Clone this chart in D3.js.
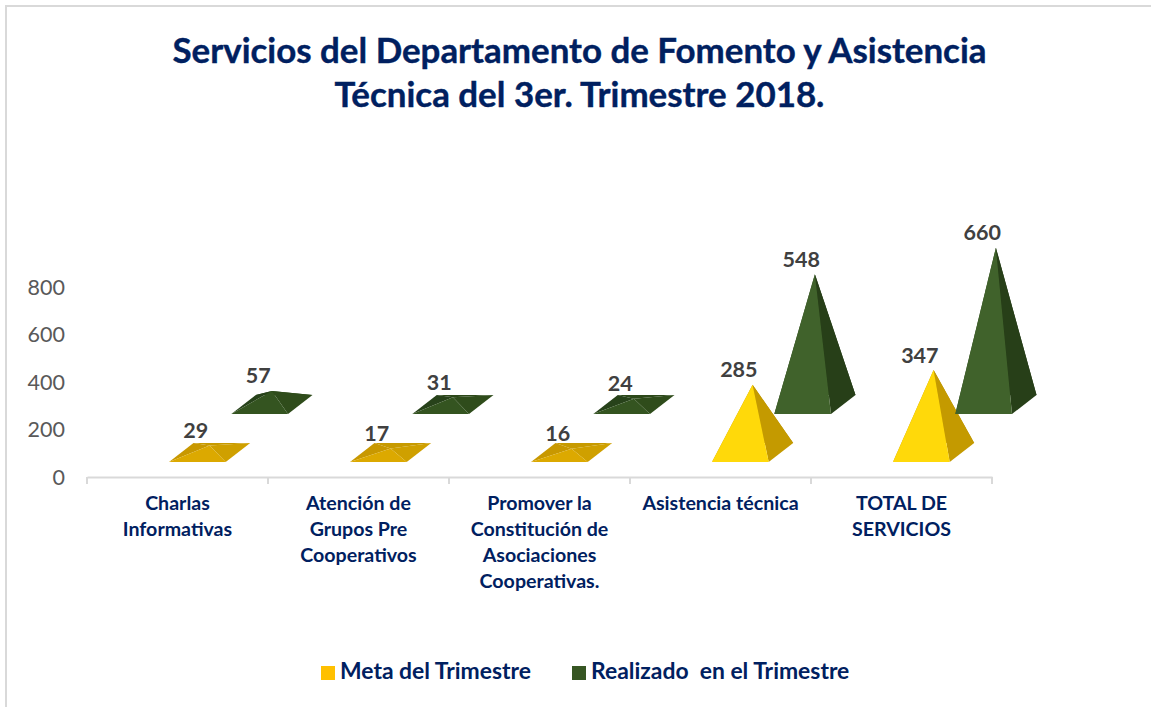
<!DOCTYPE html>
<html><head><meta charset="utf-8">
<script src="https://cdn.jsdelivr.net/npm/d3@7"></script>
<style>html,body{margin:0;padding:0;background:#fff;overflow:hidden}svg{display:block}text{font-family:Lato,"Open Sans",sans-serif}</style>
</head><body><svg id="c" width="1151" height="707"></svg>
<script>
const titleLines = ["Servicios del Departamento de Fomento y Asistencia","Técnica del 3er. Trimestre 2018."];
const categories = ["Charlas Informativas","Atención de Grupos Pre Cooperativos","Promover la Constitución de Asociaciones Cooperativas.","Asistencia técnica","TOTAL DE SERVICIOS"];
const categoryLines = [["Charlas","Informativas"],["Atención de","Grupos Pre","Cooperativos"],["Promover la","Constitución de","Asociaciones","Cooperativas."],["Asistencia técnica"],["TOTAL DE","SERVICIOS"]];
const seriesNames = ["Meta del Trimestre","Realizado  en el Trimestre"];
const meta = [29,17,16,285,347];
const realizado = [57,31,24,548,660];
const yTicks = [0,200,400,600,800];
const seriesValues = [meta,realizado];

const svg = d3.select("#c");
const navy = "#002060";
const depthX = 24.5, depthY = 19;
const baseLift = [15,63];
const bright = [{front:"#FFD90A",right:"#C49A00",back:"#B38C00",left:"#C49A00"},{front:"#40622B",right:"#273F18",back:"#223815",left:"#2A4419"}];
const dim = [{front:"#DCA900",right:"#CFA000",back:"#C79A00",left:"#C89800"},{front:"#345420",right:"#2F4C1B",back:"#2C4819",left:"#27421A"}];
const dimBelow = 100;

// frame
svg.append("path").attr("d","M6,707V6H1151").attr("fill","none").attr("stroke","#d9d9d9").attr("stroke-width",2);

// title
svg.append("g").selectAll("text").data(titleLines).join("text")
  .attr("x",579.5).attr("y",(d,i)=>63+i*44).attr("text-anchor","middle")
  .attr("fill",navy).attr("stroke",navy).attr("stroke-width",0.4).attr("font-size",34.9).attr("font-weight",700).text(d=>d);

const x = d3.scaleBand().domain(categories).range([87,992]);
const s = d3.scaleBand().domain(seriesNames).range([82,201]).paddingInner(0.09);
const y = d3.scaleLinear().domain([0,800]).range([477,287]);

// y labels
const yAxis = d3.axisLeft(y).tickValues(yTicks).tickSize(0).tickPadding(0);
const gy = svg.append("g").attr("transform","translate(65,0)").call(yAxis);
gy.select(".domain").remove();
gy.selectAll("text").attr("fill","#595959").attr("font-size",21.5).style("font-family","Lato,sans-serif").attr("dy","0.33em");

// x axis
const xAxis = d3.axisBottom(x).tickValues([]).tickSizeOuter(0);
const gx = svg.append("g").attr("transform",`translate(0,${y(0)})`).call(xAxis);
gx.select(".domain").attr("stroke","#d9d9d9").attr("stroke-width",2);
gx.selectAll("line.sep").data(categories.concat(["end"])).join("line").attr("class","sep")
  .attr("x1",(d,i)=>i<categories.length?x(d):x(categories[i-1])+x.bandwidth())
  .attr("x2",(d,i)=>i<categories.length?x(d):x(categories[i-1])+x.bandwidth())
  .attr("y1",0).attr("y2",7).attr("stroke","#d9d9d9").attr("stroke-width",2);

// category labels
categories.forEach((c,i)=>{
  const t = svg.append("text").attr("text-anchor","middle").attr("fill",navy)
    .attr("font-size",19.6).attr("font-weight",700);
  categoryLines[i].forEach((l,j)=>t.append("tspan").attr("x",x(c)+90.5).attr("y",510+j*26).text(l));
});

// pyramids
const line = pts=>"M"+pts.map(p=>p.join(",")).join("L")+"Z";
seriesNames.forEach((name,si)=>{
  const g = svg.append("g");
  categories.forEach((c,ci)=>{
    const v = seriesValues[si][ci];
    const x0 = x(c)+s(name), x1 = x0+s.bandwidth();
    const by = y(0)-baseLift[si];
    const fl=[x0,by], fr=[x1,by], br=[x1+depthX,by-depthY], bl=[x0+depthX,by-depthY];
    const cx = (x0+x1)/2;
    const apex=[cx+depthX/2, by-depthY/2-(y(0)-y(v))];
    const pal = v<dimBelow?dim[si]:bright[si];
    g.append("path").attr("d",line([bl,br,apex])).attr("fill",pal.back);
    g.append("path").attr("d",line([fl,bl,apex])).attr("fill",pal.left);
    g.append("path").attr("d",line([fr,br,apex])).attr("fill",pal.right);
    g.append("path").attr("d",line([fl,fr,apex])).attr("fill",pal.front);
    g.append("text").attr("x",cx-1.5).attr("y",apex[1]-15).attr("dy","0.35em").attr("text-anchor","middle")
      .attr("fill","#404040").attr("font-size",21.5).attr("font-weight",700).text(v);
  });
});

// legend
const legendX = [321,572], legendColors=["#FFC000","#375623"];
seriesNames.forEach((n,i)=>{
  svg.append("rect").attr("x",legendX[i]).attr("y",666).attr("width",14).attr("height",14).attr("fill",legendColors[i]);
  svg.append("text").attr("x",legendX[i]+19).attr("y",679).attr("fill",navy).attr("font-size",22.9).attr("font-weight",700).style("white-space","pre").text(n);
});
</script></body></html>
